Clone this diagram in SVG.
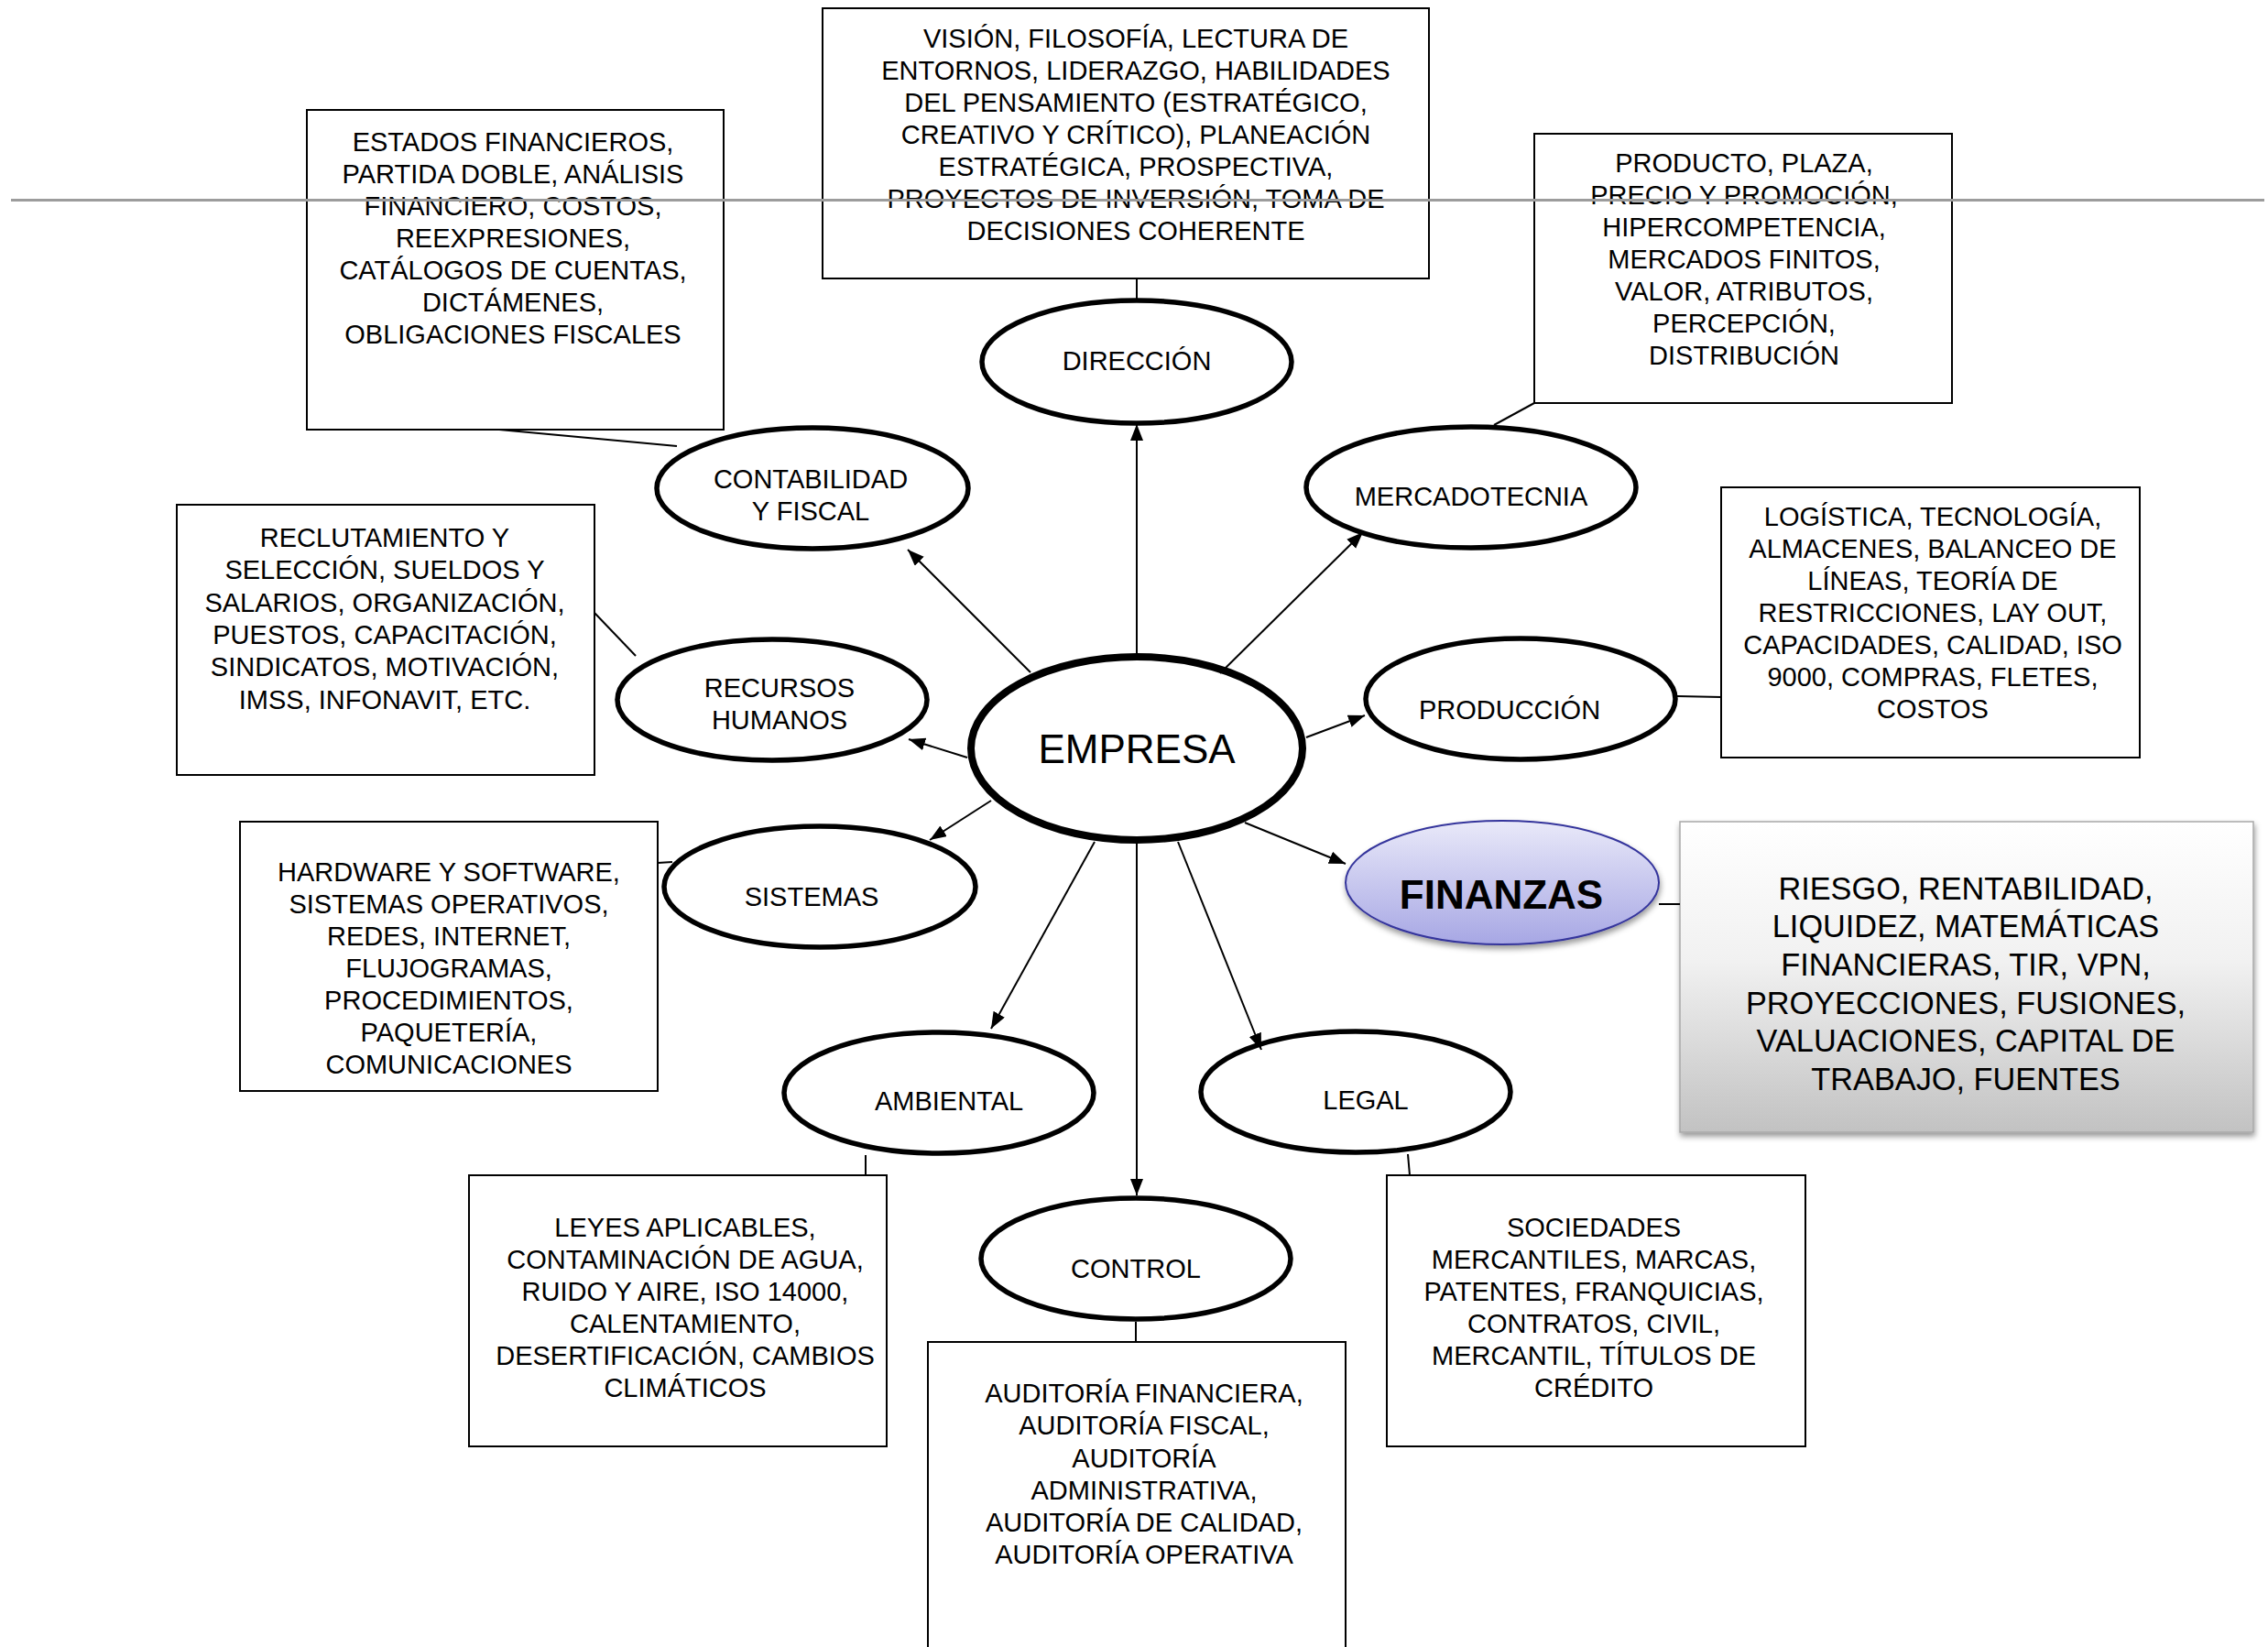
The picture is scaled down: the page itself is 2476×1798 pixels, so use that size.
<svg xmlns="http://www.w3.org/2000/svg" width="2476" height="1798" viewBox="0 0 2476 1798">
<style>
.bg{fill:#ffffff}
.box{fill:#ffffff;stroke:#000000;stroke-width:2}
.ell{fill:#ffffff;stroke:#000000;stroke-width:5.5}
.t{font-family:"Liberation Sans",Arial,sans-serif;font-size:29px;fill:#000000;text-anchor:middle}
.big{font-size:44px}
.ft{font-size:34.3px}
.con{stroke:#000000;stroke-width:2;fill:none}
.arr{stroke:#000000;stroke-width:2;fill:none;marker-end:url(#ah)}
.rule{stroke:#9c9c9c;stroke-width:3}
</style>
<defs>
<marker id="ah" markerUnits="userSpaceOnUse" markerWidth="20" markerHeight="16" refX="18" refY="7" orient="auto">
<path d="M0,0 L18,7 L0,14 z" fill="#000000"/>
</marker>
<linearGradient id="gFin" x1="0" y1="0" x2="0" y2="1">
<stop offset="0" stop-color="#e9e9f9"/>
<stop offset="1" stop-color="#a7a7e4"/>
</linearGradient>
<linearGradient id="gBox" x1="0" y1="0" x2="0" y2="1">
<stop offset="0" stop-color="#ffffff"/>
<stop offset="0.45" stop-color="#f1f1f1"/>
<stop offset="1" stop-color="#c2c2c2"/>
</linearGradient>
<filter id="sh" x="-10%" y="-10%" width="125%" height="130%">
<feDropShadow dx="1" dy="4" stdDeviation="3" flood-color="#000000" flood-opacity="0.4"/>
</filter>
</defs>
<rect class="bg" x="0" y="0" width="2476" height="1798"/>

<g id="box-direccion">
<rect class="box" x="898" y="9" width="662" height="295"/>
<text class="t" x="1240" y="52">VISIÓN, FILOSOFÍA, LECTURA DE</text>
<text class="t" x="1240" y="87">ENTORNOS, LIDERAZGO, HABILIDADES</text>
<text class="t" x="1240" y="122">DEL PENSAMIENTO (ESTRATÉGICO,</text>
<text class="t" x="1240" y="157">CREATIVO Y CRÍTICO), PLANEACIÓN</text>
<text class="t" x="1240" y="192">ESTRATÉGICA, PROSPECTIVA,</text>
<text class="t" x="1240" y="227">PROYECTOS DE INVERSIÓN, TOMA DE</text>
<text class="t" x="1240" y="262">DECISIONES COHERENTE</text>
</g>

<g id="box-contabilidad">
<rect class="box" x="335" y="120" width="455" height="349"/>
<text class="t" x="560" y="165">ESTADOS FINANCIEROS,</text>
<text class="t" x="560" y="200">PARTIDA DOBLE, ANÁLISIS</text>
<text class="t" x="560" y="235">FINANCIERO, COSTOS,</text>
<text class="t" x="560" y="270">REEXPRESIONES,</text>
<text class="t" x="560" y="305">CATÁLOGOS DE CUENTAS,</text>
<text class="t" x="560" y="340">DICTÁMENES,</text>
<text class="t" x="560" y="375">OBLIGACIONES FISCALES</text>
</g>

<g id="box-mercadotecnia">
<rect class="box" x="1675" y="146" width="456" height="294"/>
<text class="t" x="1904" y="188">PRODUCTO, PLAZA,</text>
<text class="t" x="1904" y="223">PRECIO Y PROMOCIÓN,</text>
<text class="t" x="1904" y="258">HIPERCOMPETENCIA,</text>
<text class="t" x="1904" y="293">MERCADOS FINITOS,</text>
<text class="t" x="1904" y="328">VALOR, ATRIBUTOS,</text>
<text class="t" x="1904" y="363">PERCEPCIÓN,</text>
<text class="t" x="1904" y="398">DISTRIBUCIÓN</text>
</g>

<g id="box-produccion">
<rect class="box" x="1879" y="532" width="457" height="295"/>
<text class="t" x="2110" y="574">LOGÍSTICA, TECNOLOGÍA,</text>
<text class="t" x="2110" y="609">ALMACENES, BALANCEO DE</text>
<text class="t" x="2110" y="644">LÍNEAS, TEORÍA DE</text>
<text class="t" x="2110" y="679">RESTRICCIONES, LAY OUT,</text>
<text class="t" x="2110" y="714">CAPACIDADES, CALIDAD, ISO</text>
<text class="t" x="2110" y="749">9000, COMPRAS, FLETES,</text>
<text class="t" x="2110" y="784">COSTOS</text>
</g>

<g id="box-recursos">
<rect class="box" x="193" y="551" width="456" height="295"/>
<text class="t" x="420" y="597">RECLUTAMIENTO Y</text>
<text class="t" x="420" y="632">SELECCIÓN, SUELDOS Y</text>
<text class="t" x="420" y="668">SALARIOS, ORGANIZACIÓN,</text>
<text class="t" x="420" y="703">PUESTOS, CAPACITACIÓN,</text>
<text class="t" x="420" y="738">SINDICATOS, MOTIVACIÓN,</text>
<text class="t" x="420" y="774">IMSS, INFONAVIT, ETC.</text>
</g>

<g id="box-sistemas">
<rect class="box" x="262" y="897" width="456" height="294"/>
<text class="t" x="490" y="962">HARDWARE Y SOFTWARE,</text>
<text class="t" x="490" y="997">SISTEMAS OPERATIVOS,</text>
<text class="t" x="490" y="1032">REDES, INTERNET,</text>
<text class="t" x="490" y="1067">FLUJOGRAMAS,</text>
<text class="t" x="490" y="1102">PROCEDIMIENTOS,</text>
<text class="t" x="490" y="1137">PAQUETERÍA,</text>
<text class="t" x="490" y="1172">COMUNICACIONES</text>
</g>

<g id="box-ambiental">
<rect class="box" x="512" y="1283" width="456" height="296"/>
<text class="t" x="748" y="1350">LEYES APLICABLES,</text>
<text class="t" x="748" y="1385">CONTAMINACIÓN DE AGUA,</text>
<text class="t" x="748" y="1420">RUIDO Y AIRE, ISO 14000,</text>
<text class="t" x="748" y="1455">CALENTAMIENTO,</text>
<text class="t" x="748" y="1490">DESERTIFICACIÓN, CAMBIOS</text>
<text class="t" x="748" y="1525">CLIMÁTICOS</text>
</g>

<g id="box-control">
<rect class="box" x="1013" y="1465" width="456" height="360"/>
<text class="t" x="1249" y="1531">AUDITORÍA FINANCIERA,</text>
<text class="t" x="1249" y="1566">AUDITORÍA FISCAL,</text>
<text class="t" x="1249" y="1602">AUDITORÍA</text>
<text class="t" x="1249" y="1637">ADMINISTRATIVA,</text>
<text class="t" x="1249" y="1672">AUDITORÍA DE CALIDAD,</text>
<text class="t" x="1249" y="1707">AUDITORÍA OPERATIVA</text>
</g>

<g id="box-legal">
<rect class="box" x="1514" y="1283" width="457" height="296"/>
<text class="t" x="1740" y="1350">SOCIEDADES</text>
<text class="t" x="1740" y="1385">MERCANTILES, MARCAS,</text>
<text class="t" x="1740" y="1420">PATENTES, FRANQUICIAS,</text>
<text class="t" x="1740" y="1455">CONTRATOS, CIVIL,</text>
<text class="t" x="1740" y="1490">MERCANTIL, TÍTULOS DE</text>
<text class="t" x="1740" y="1525">CRÉDITO</text>
</g>

<g id="box-finanzas">
<rect x="1834" y="897" width="626" height="339" fill="url(#gBox)" stroke="#a8a8a8" stroke-width="1.5" filter="url(#sh)"/>
<text class="t ft" x="2146" y="982">RIESGO, RENTABILIDAD,</text>
<text class="t ft" x="2146" y="1023">LIQUIDEZ, MATEMÁTICAS</text>
<text class="t ft" x="2146" y="1065">FINANCIERAS, TIR, VPN,</text>
<text class="t ft" x="2146" y="1107">PROYECCIONES, FUSIONES,</text>
<text class="t ft" x="2146" y="1148">VALUACIONES, CAPITAL DE</text>
<text class="t ft" x="2146" y="1190">TRABAJO, FUENTES</text>
</g>

<g id="node-direccion">
<ellipse class="ell" cx="1241" cy="395" rx="169" ry="67"/>
<text class="t" x="1241" y="404">DIRECCIÓN</text>
</g>
<g id="node-contabilidad">
<ellipse class="ell" cx="887" cy="533" rx="170" ry="66"/>
<text class="t" x="885" y="533">CONTABILIDAD</text>
<text class="t" x="885" y="568">Y FISCAL</text>
</g>
<g id="node-mercadotecnia">
<ellipse class="ell" cx="1606" cy="532" rx="180" ry="66"/>
<text class="t" x="1606" y="552">MERCADOTECNIA</text>
</g>
<g id="node-recursos">
<ellipse class="ell" cx="843" cy="764" rx="169" ry="66"/>
<text class="t" x="851" y="761">RECURSOS</text>
<text class="t" x="851" y="796">HUMANOS</text>
</g>
<g id="node-produccion">
<ellipse class="ell" cx="1660" cy="763" rx="169" ry="66"/>
<text class="t" x="1648" y="785">PRODUCCIÓN</text>
</g>
<g id="node-empresa">
<ellipse cx="1241" cy="817" rx="181" ry="100" fill="#ffffff" stroke="#000000" stroke-width="8"/>
<text class="t big" x="1241" y="833">EMPRESA</text>
</g>
<g id="node-sistemas">
<ellipse class="ell" cx="895" cy="968" rx="170" ry="66"/>
<text class="t" x="886" y="989">SISTEMAS</text>
</g>
<g id="node-finanzas">
<ellipse cx="1640" cy="963.5" rx="171" ry="67.5" fill="url(#gFin)" stroke="#34349c" stroke-width="2" filter="url(#sh)"/>
<text class="t big" x="1639" y="992" font-weight="bold">FINANZAS</text>
</g>
<g id="node-ambiental">
<ellipse class="ell" cx="1025" cy="1193" rx="169" ry="66"/>
<text class="t" x="1036" y="1212">AMBIENTAL</text>
</g>
<g id="node-legal">
<ellipse class="ell" cx="1480" cy="1192" rx="169" ry="66"/>
<text class="t" x="1491" y="1211">LEGAL</text>
</g>
<g id="node-control">
<ellipse class="ell" cx="1240" cy="1374" rx="169" ry="66"/>
<text class="t" x="1240" y="1395">CONTROL</text>
</g>

<g id="connectors">
<line class="con" x1="1241" y1="304" x2="1241" y2="326"/>
<line class="con" x1="545" y1="469" x2="739" y2="487"/>
<line class="con" x1="1675" y1="440" x2="1631" y2="464"/>
<line class="con" x1="1831" y1="760" x2="1879" y2="761"/>
<line class="con" x1="649" y1="669" x2="694" y2="716"/>
<line class="con" x1="718" y1="942" x2="734" y2="941"/>
<line class="con" x1="1811" y1="987" x2="1834" y2="987"/>
<line class="con" x1="945" y1="1261" x2="945" y2="1283"/>
<line class="con" x1="1240" y1="1443" x2="1240" y2="1465"/>
<line class="con" x1="1537" y1="1260" x2="1539" y2="1283"/>
<line class="arr" x1="1241" y1="713" x2="1241" y2="463"/>
<line class="arr" x1="1125" y1="734" x2="991" y2="600"/>
<line class="arr" x1="1332" y1="735" x2="1488" y2="581"/>
<line class="arr" x1="1426" y1="805" x2="1490" y2="781"/>
<line class="arr" x1="1056" y1="827" x2="992" y2="807"/>
<line class="arr" x1="1082" y1="874" x2="1015" y2="917"/>
<line class="arr" x1="1359" y1="898" x2="1469" y2="943"/>
<line class="arr" x1="1195" y1="919" x2="1082" y2="1123"/>
<line class="arr" x1="1241" y1="921" x2="1241" y2="1305"/>
<line class="arr" x1="1286" y1="919" x2="1377" y2="1146"/>
</g>

<line class="rule" x1="12" y1="218.5" x2="2472" y2="218.5"/>
</svg>
